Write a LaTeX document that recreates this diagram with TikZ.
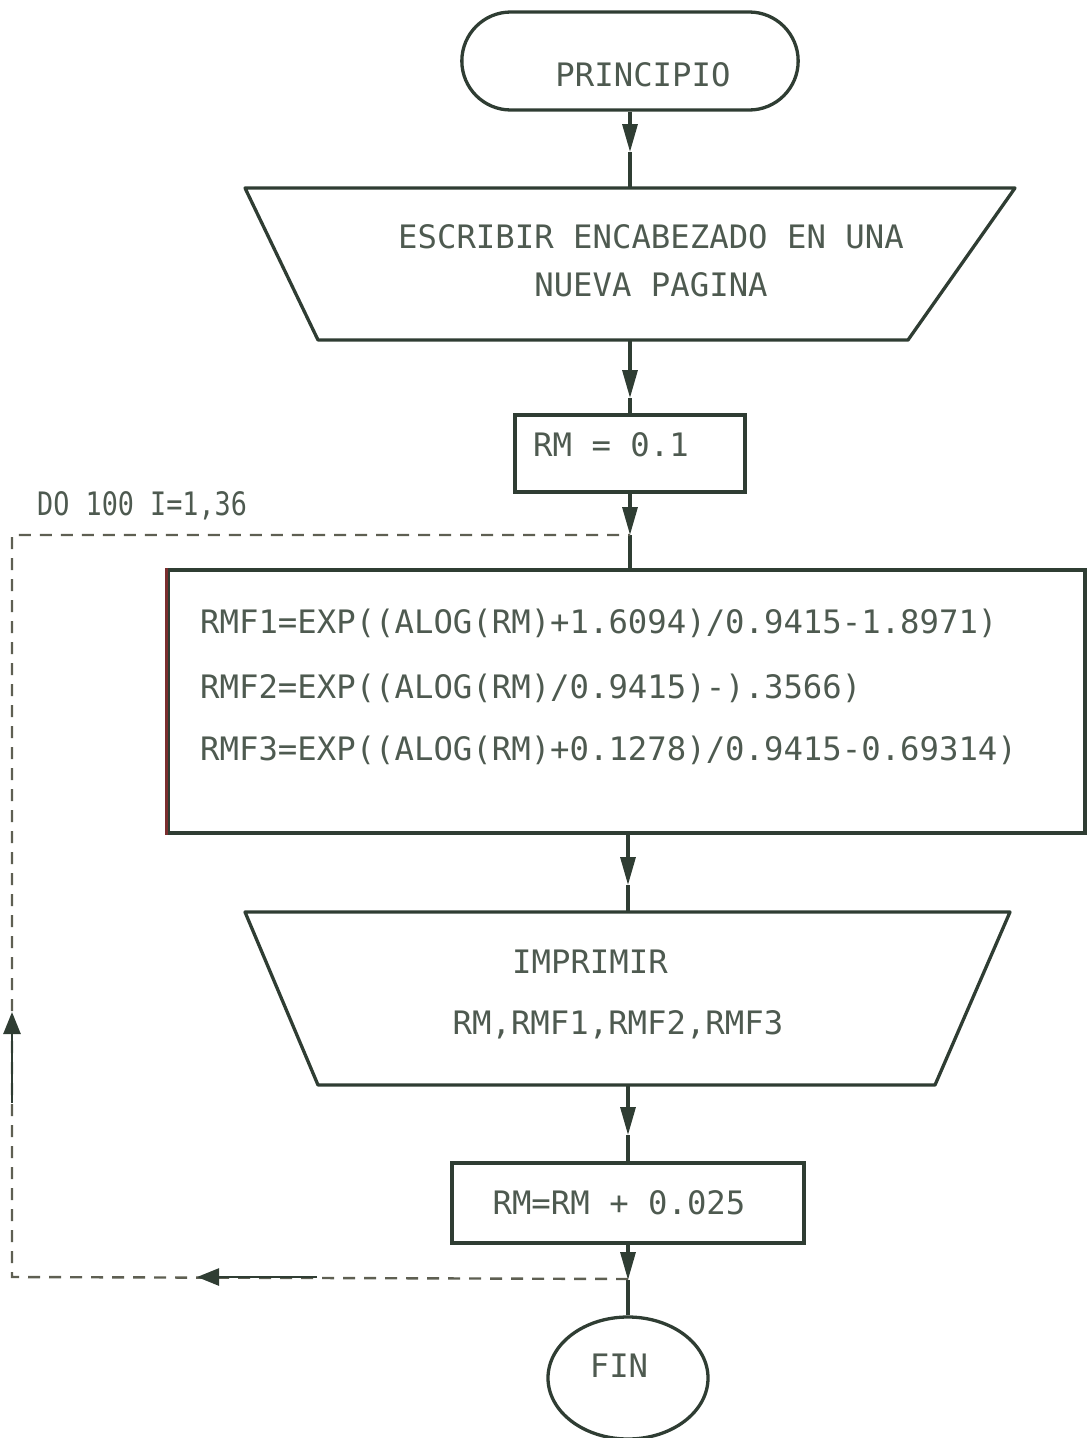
\documentclass[tikz,border=0pt]{standalone}
\usepackage{fontspec}
\usepackage{graphicx}
\newfontfamily\mono{DejaVu Sans Mono}
\usetikzlibrary{arrows.meta,shapes.misc,shapes.geometric}
\definecolor{ink}{HTML}{2F3D33}
\definecolor{txt}{HTML}{4E5A50}
\definecolor{dashc}{HTML}{5E5F52}
\definecolor{redline}{HTML}{7A2E2E}
\begin{document}
\begin{tikzpicture}[x=1pt,y=-1pt,
  outline/.style={draw=ink, line width=3.3pt},
  lbl/.style={text=txt, font=\mono\fontsize{32.3}{38}\selectfont, inner sep=0pt},
  flow/.style={draw=ink, line width=3.3pt},
  head/.style={-{Triangle[length=28pt,width=15pt]}},
  loophead/.style={-{Triangle[length=22pt,width=17pt]}},
  loopline/.style={draw=dashc, line width=2.4pt, dash pattern=on 12pt off 9pt}]
\useasboundingbox (0,0) rectangle (1092,1438);
% terminal start
\node[rounded rectangle, outline, minimum width=343pt, minimum height=98pt] (start) at (630,61) {};
\node[lbl] (starttxt) at (643,75) {PRINCIPIO};
% trapezoid 1
\coordinate (t1a) at (245,188);
\coordinate (t1b) at (1015,188);
\coordinate (t1c) at (908,340);
\coordinate (t1d) at (318,340);
\coordinate (t1top) at (630,188);
\coordinate (t1bot) at (630,340);
\draw[outline, line join=round] (t1a) -- (t1b) -- (t1c) -- (t1d) -- cycle;
\node[lbl] (t1l1) at (651,237) {ESCRIBIR ENCABEZADO EN UNA};
\node[lbl] (t1l2) at (651,285) {NUEVA PAGINA};
% RM box
\node[rectangle, outline, minimum width=230pt, minimum height=77pt] (rm) at (630,453.5) {};
\node[lbl, anchor=west] (rmtxt) at (533,445) {RM = 0.1};
% DO label
\node[lbl, anchor=west] (dolbl) at (37,506) {\scalebox{0.83}[1]{DO 100 I=1,36}};
% big box
\node[rectangle, outline, minimum width=917pt, minimum height=263pt] (big) at (626.5,701.5) {};
\draw[redline, line width=3.3pt] (big.north west) -- (big.south west);
\node[lbl, anchor=west] (f1) at (200,623) {RMF1=EXP((ALOG(RM)+1.6094)/0.9415-1.8971)};
\node[lbl, anchor=west] (f2) at (200,688) {RMF2=EXP((ALOG(RM)/0.9415)-).3566)};
\node[lbl, anchor=west] (f3) at (200,750) {RMF3=EXP((ALOG(RM)+0.1278)/0.9415-0.69314)};
% trapezoid 2
\coordinate (t2a) at (245,912);
\coordinate (t2b) at (1010,912);
\coordinate (t2c) at (935,1085);
\coordinate (t2d) at (318,1085);
\coordinate (t2top) at (628,912);
\coordinate (t2bot) at (628,1085);
\draw[outline, line join=round] (t2a) -- (t2b) -- (t2c) -- (t2d) -- cycle;
\node[lbl] (t2l1) at (590,962) {IMPRIMIR};
\node[lbl] (t2l2) at (618,1025) {RM,RMF1,RMF2,RMF3};
% increment box
\node[rectangle, outline, minimum width=352pt, minimum height=80pt] (inc) at (628,1203) {};
\node[lbl] (inctxt) at (619,1203) {RM=RM + 0.025};
% FIN
\node[ellipse, outline, minimum width=160pt, minimum height=122pt] (fin) at (628,1378) {};
\node[lbl] (fintxt) at (619,1366) {FIN};
% arrow tip coordinates
\coordinate (a1) at (630,152);
\coordinate (a2) at (630,398);
\coordinate (a3) at (630,535);
\coordinate (a4) at (628,885);
\coordinate (a5) at (628,1135);
\coordinate (a6) at (628,1280);
% main flow
\draw[flow, head] (start.south) -- (a1);
\draw[flow] (a1) -- (t1top);
\draw[flow, head] (t1bot) -- (a2);
\draw[flow] (a2) -- (rm.north);
\draw[flow, head] (rm.south) -- (a3);
\draw[flow] (a3) -- (big.north -| a3);
\draw[flow, head] (big.south -| a4) -- (a4);
\draw[flow] (a4) -- (t2top);
\draw[flow, head] (t2bot) -- (a5);
\draw[flow] (a5) -- (inc.north);
\draw[flow, head] (inc.south) -- (a6);
\draw[flow] (a6) -- (fin.north);
% loop
\coordinate (lbr) at (628,1279);
\coordinate (lbl) at (12,1277);
\coordinate (ltl) at (12,535);
\coordinate (ltr) at (630,535);
\draw[loopline] (lbr) -- (lbl) -- (ltl) -- (ltr);
\coordinate (s1a) at (317,1277);
\coordinate (s1b) at (197,1277);
\coordinate (s2a) at (12,1103);
\coordinate (s2b) at (12,1012);
\draw[flow, loophead, line width=2.6pt] (s1a) -- (s1b);
\draw[flow, loophead, line width=2.6pt] (s2a) -- (s2b);
\end{tikzpicture}
\end{document}
